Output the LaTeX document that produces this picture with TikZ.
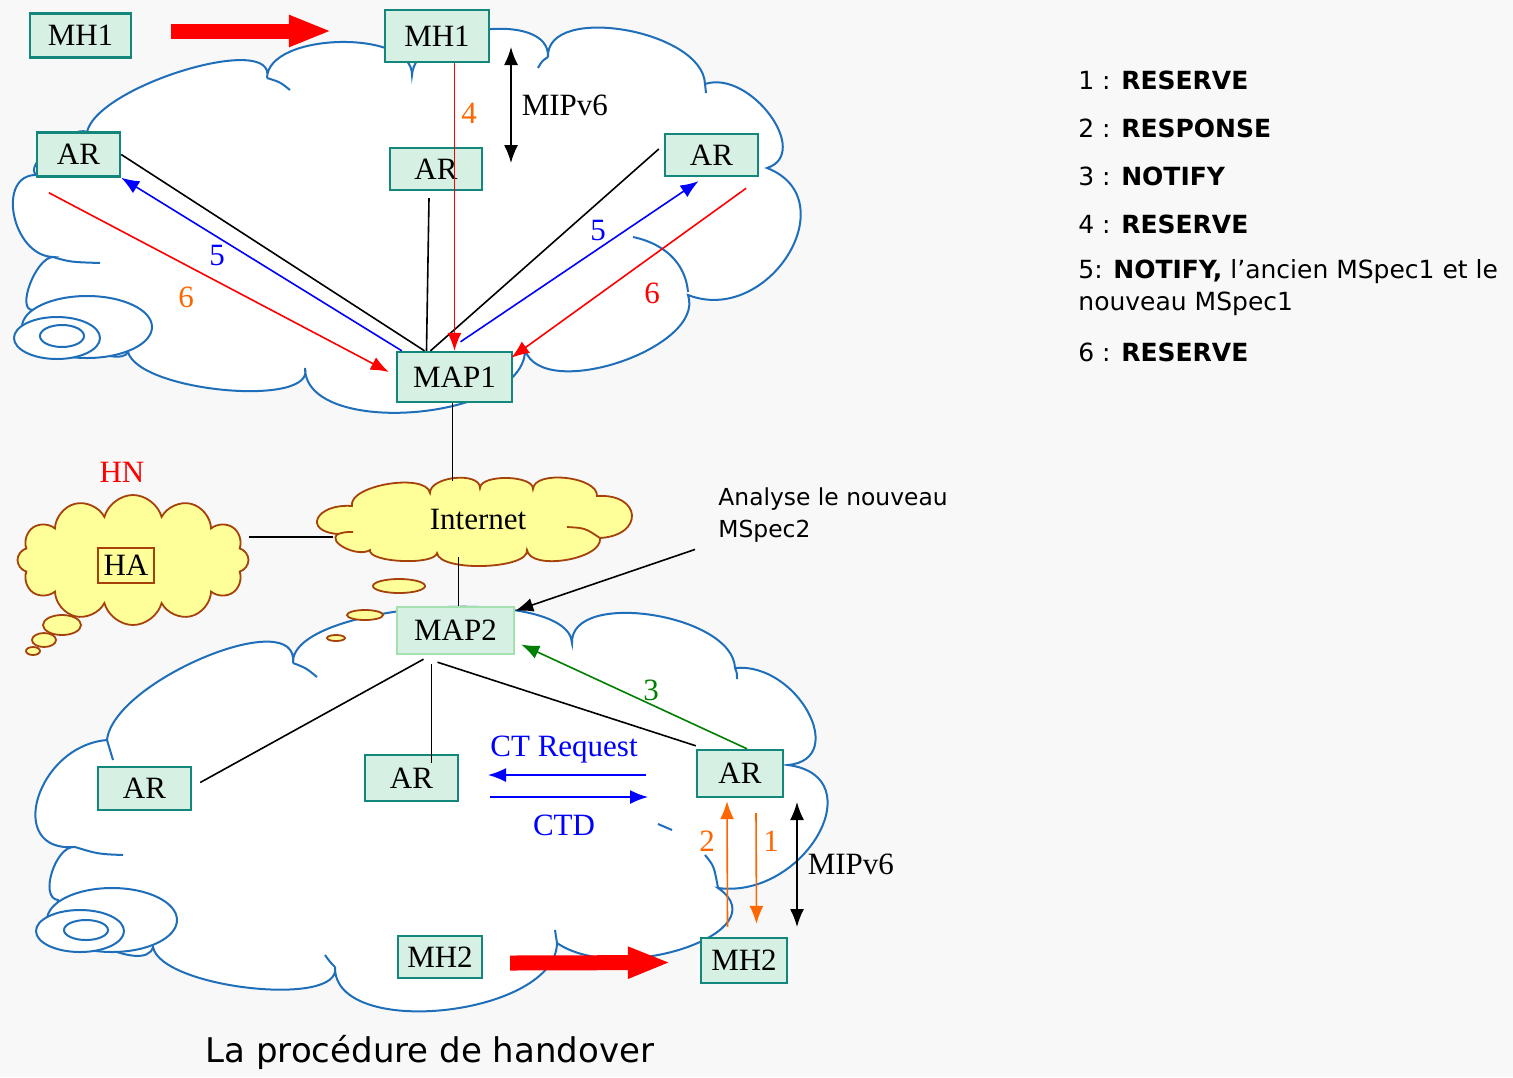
\documentclass[tikz,border=0pt]{standalone}
\usepackage{fontspec}
\setmainfont{Liberation Serif}
\newfontfamily\comicfont{DejaVu Sans}
\usetikzlibrary{arrows.meta,calc,shapes.symbols}

\definecolor{bgcol}{RGB}{248,248,248}
\definecolor{boxfill}{RGB}{214,240,228}
\definecolor{boxline}{RGB}{20,135,125}
\definecolor{map2line}{RGB}{165,225,175}
\definecolor{cloudline}{RGB}{30,110,185}
\definecolor{yfill}{RGB}{255,255,153}
\definecolor{yline}{RGB}{165,65,10}
\definecolor{msgorange}{RGB}{255,102,0}
\definecolor{msggreen}{RGB}{0,128,0}

\tikzset{
  box/.style={draw=boxline,fill=boxfill,line width=1.2pt,inner sep=0pt,minimum height=22pt,font=\fontsize{15.5}{18}\selectfont},
  lbl/.style={font=\fontsize{15.5}{18}\selectfont,inner sep=1pt},
  link/.style={line width=0.8pt},
  msg/.style={line width=0.8pt,->},
  move/.style={red,line width=7.5pt,-{Triangle[length=21.5pt,width=14.5pt]}},
  netcloud/.style={draw=cloudline,fill=white,line width=1pt},
  tail/.style={draw=cloudline,line width=1pt},
  ycloud/.style={cloud,cloud puffs=12,cloud ignores aspect,draw=yline,fill=yfill,line width=0.9pt,inner sep=0pt},
  bubble/.style={draw=yline,fill=yfill,line width=0.9pt},
  comic/.style={font=\comicfont\fontsize{12.5}{16}\selectfont,inner sep=0pt},
}

\begin{document}
\begin{tikzpicture}[x=0.5pt,y=-0.5pt,>={Latex[length=9pt,width=7pt]}]
\useasboundingbox (0,0) rectangle (1513,1077);
\fill[bgcol] (0,0) rectangle (1513,1077);

% top network cloud
\filldraw[netcloud] (87,132)
  \foreach \p/\a/\q in {{87,132}/{185,70}/{267,78},{267,78}/{340,42}/{412,75},{412,75}/{482,30}/{548,57},
    {548,57}/{625,30}/{705,84},{705,84}/{770,115}/{767,168},{767,168}/{788,255}/{688,295},
    {688,295}/{620,362}/{525,350},{525,350}/{415,412}/{305,368},{305,368}/{225,390}/{128,352},
    {128,352}/{75,345}/{33,310},{33,310}/{30,284}/{53,257},{53,257}/{14,215}/{37,175},{37,175}/{50,148}/{87,132}}
  { .. controls ($0.3333*(\p)+1.3333*(\a)-0.6667*(\q)$) and ($0.3333*(\q)+1.3333*(\a)-0.6667*(\p)$) .. (\q) } -- cycle;
\draw[tail] (267,78) .. controls (280,82) .. (290,90);
\draw[tail] (548,57) .. controls (542,61) .. (538,68);
\draw[tail] (705,84) .. controls (706,88) .. (706,93);
\draw[tail] (633,237) .. controls (670,245) and (686,268) .. (688,292);
\draw[tail] (53,257) .. controls (70,262) .. (100,263);
\filldraw[netcloud] (87,327) ellipse [x radius=65, y radius=31];
\filldraw[netcloud] (57,338) ellipse [x radius=43, y radius=21];
\draw[tail] (62,336) ellipse [x radius=22, y radius=11];

% bottom network cloud
\filldraw[netcloud] (107,740)
  \foreach \p/\a/\q in {{107,740}/{205,657}/{293,663},{293,663}/{430,608}/{572,643},{572,643}/{652,615}/{735,668},
    {735,668}/{808,712}/{788,765},{788,765}/{818,835}/{718,888},{718,888}/{685,948}/{557,943},
    {557,943}/{445,1010}/{335,967},{335,967}/{250,988}/{153,947},{153,947}/{100,945}/{58,900},
    {58,900}/{52,872}/{75,847},{75,847}/{38,798}/{107,740}}
  { .. controls ($0.3333*(\p)+1.3333*(\a)-0.6667*(\q)$) and ($0.3333*(\q)+1.3333*(\a)-0.6667*(\p)$) .. (\q) } -- cycle;
\draw[tail] (107,740) .. controls (110,750) .. (113,760);
\draw[tail] (293,663) .. controls (306,668) .. (317,677);
\draw[tail] (735,668) .. controls (737,673) .. (737,679);
\draw[tail] (75,847) .. controls (98,854) .. (123,855);
\draw[tail] (658,824) -- (672,830);
\draw[tail] (705,855) .. controls (714,866) .. (718,888);
\draw[tail] (557,943) .. controls (556,936) .. (555,930);
\draw[tail] (335,967) .. controls (330,962) .. (325,955);
\filldraw[netcloud] (112,920) ellipse [x radius=65, y radius=32];
\filldraw[netcloud] (80,931) ellipse [x radius=44, y radius=21];
\draw[tail] (86,930) ellipse [x radius=22, y radius=10];

% home network and internet
\filldraw[bubble] (338,534)
  \foreach \p/\a/\q in {{338,534}/{318,518}/{352,506},{352,506}/{388,484}/{430,493},{430,493}/{455,478}/{480,488},
    {480,488}/{507,478}/{533,489},{533,489}/{566,478}/{597,496},{597,496}/{632,515}/{600,538},
    {600,538}/{566,560}/{527,550},{527,550}/{484,566}/{437,553},{437,553}/{402,561}/{370,550},{370,550}/{345,548}/{338,534}}
  { .. controls ($0.3333*(\p)+1.3333*(\a)-0.6667*(\q)$) and ($0.3333*(\q)+1.3333*(\a)-0.6667*(\p)$) .. (\q) } -- cycle;
\draw[bubble] (567,527) .. controls (585,528) .. (600,538);
\draw[bubble] (338,534) .. controls (345,532) .. (353,532);
\node[minimum width=145pt,minimum height=38pt,inner sep=0pt,font=\fontsize{15.5}{18}\selectfont] (inet) at (478,519) {Internet};
\node[ycloud,minimum width=115.5pt,minimum height=65pt] (hn) at (133,560) {};
\filldraw[bubble] (62,625) ellipse [x radius=19, y radius=10];
\filldraw[bubble] (44,640) ellipse [x radius=12, y radius=7];
\filldraw[bubble] (33,651) ellipse [x radius=7, y radius=4];
\filldraw[bubble] (399,586) ellipse [x radius=26, y radius=7];
\filldraw[bubble] (365,615) ellipse [x radius=18, y radius=5];
\filldraw[bubble] (336,638) ellipse [x radius=9, y radius=3];
\node[box,draw=yline,fill=yfill,line width=1pt,minimum width=28pt,minimum height=17.5pt] (ha) at (126,565) {HA};
\node[lbl,red] (hnl) at (122,472) {HN};

% nodes
\node[box,minimum width=50.5pt] (mh1a) at (80.5,35.5) {MH1};
\node[box,minimum width=52pt,minimum height=26pt] (mh1b) at (437,36) {MH1};
\node[box,minimum width=41.5pt] (arl) at (78.5,154.5) {AR};
\node[box,minimum width=46pt,minimum height=21pt] (arm) at (436,169) {AR};
\node[box,minimum width=46.5pt,minimum height=21pt] (arr) at (711.5,155) {AR};
\node[box,minimum width=57.5pt,minimum height=25pt] (map1) at (454.5,377) {MAP1};
\node[box,draw=map2line,minimum width=58.5pt,minimum height=23.5pt] (map2) at (455.5,630.5) {MAP2};
\node[box,minimum width=46.5pt,minimum height=21.5pt] (arlb) at (144.5,788.5) {AR};
\node[box,minimum width=46.5pt,minimum height=23pt] (armb) at (411.5,778) {AR};
\node[box,minimum width=43pt,minimum height=23.5pt] (arrb) at (740,773.5) {AR};
\node[box,minimum width=42pt,minimum height=21pt] (mh2l) at (440,957) {MH2};
\node[box,minimum width=43pt,minimum height=22.5pt] (mh2r) at (744,960.5) {MH2};

% handovers
\draw[move] ([shift={(19.5pt,2.25pt)}]mh1a.east) -- ([shift={(-26pt,2.5pt)}]mh1b.west);
\draw[move] ([shift={(13.5pt,-3pt)}]mh2l.east) -- ([shift={(-14.5pt,-1pt)}]mh2r.west);

% top links
\draw[link] (arl.east) -- ([xshift=-15pt]map1.north);
\draw[link] ([shift={(-3.5pt,-3.5pt)}]arm.south) -- ([xshift=-14pt]map1.north);
\draw[link] ([shift={(-2.5pt,3pt)}]arr.west) -- ([xshift=-12pt]map1.north);
\draw[msg,blue] ([xshift=3pt]map1.north west) -- (arl.south east);
\draw[msg,red] ([shift={(6.5pt,-7.5pt)}]arl.south west) -- ([shift={(-3.5pt,2.5pt)}]map1.west);
\draw[msg,blue] ([shift={(3pt,4.5pt)}]map1.north) -- ([shift={(-6.5pt,-2pt)}]arr.south);
\draw[msg,red] ([shift={(-6.5pt,-5.5pt)}]arr.south east) -- ([shift={(-1pt,-3.5pt)}]map1.north east);
\draw[msg,red] (mh1b.south -| map1.north) -- (map1.north);
\coordinate (mipa) at (511,47);
\coordinate (mipb) at (511,163);
\draw[link,<->] (mipa) -- (mipb) node[lbl,midway,right=4pt] (mip1) {MIPv6};
\node[lbl,msgorange] (l4) at (469,113) {4};
\node[lbl,blue] (l5a) at (217,255) {5};
\node[lbl,msgorange] (l6a) at (186,297) {6};
\node[lbl,blue] (l5b) at (598,230) {5};
\node[lbl,red] (l6b) at (652,293) {6};

% core links
\draw[link] ([xshift=-1pt]map1.south) -- ([xshift=-1pt]map1.south |- inet.north);
\draw[link] ([xshift=1.5pt]map2.north) -- ([xshift=1.5pt]map2.north |- inet.south);
\draw[link] ([yshift=-9pt]inet.west) -- ([yshift=-9pt]inet.west -| hn.east);
\node[comic,font=\comicfont\fontsize{11.7}{16}\selectfont,align=left,anchor=north west] (ana) at (718,487) {Analyse le nouveau\\MSpec2};
\draw[msg] ([shift={(-11.5pt,-3.5pt)}]ana.south west) -- ([yshift=-2.5pt]map2.north east);

% bottom links
\draw[link] ([shift={(-16pt,-2pt)}]map2.south) -- ([shift={(4pt,3pt)}]arlb.east);
\draw[link] ([shift={(-12pt,-4.5pt)}]map2.south) -- ([shift={(-12pt,-4.5pt)}]map2.south |- armb.north);
\draw[link] ([shift={(-9pt,-3.5pt)}]map2.south) -- ([yshift=1.5pt]arrb.north west);
\draw[msg,msggreen] ([xshift=3.5pt]arrb.north) -- ([shift={(3pt,-7pt)}]map2.east);
\node[lbl,msggreen] (l3) at (651,690) {3};
\node[lbl,blue] (ctreq) at (564,750) {CT Request};
\node[lbl,blue] (ctd) at (564,825) {CTD};
\coordinate (cta) at (646,775);
\coordinate (ctb) at (488,775);
\coordinate (ctc) at (490,797);
\coordinate (ctdd) at (648,797);
\draw[msg,blue] (cta) -- (ctb);
\draw[msg,blue] (ctc) -- (ctdd);
\draw[msg,msgorange] ([shift={(-8.25pt,5pt)}]mh2r.north) -- ([shift={(-6.5pt,-1.5pt)}]arrb.south);
\draw[msg,msgorange] ([shift={(8pt,-7.5pt)}]arrb.south) -- ([shift={(6.25pt,6.5pt)}]mh2r.north);
\node[lbl,msgorange] (l2) at (707,841) {2};
\node[lbl,msgorange] (l1) at (771,841) {1};
\coordinate (mipc) at (797,802);
\coordinate (mipd) at (797,927);
\draw[link,<->] (mipc) -- (mipd) node[lbl,midway,right=4pt] (mip2) {MIPv6};

% legend
\foreach \n/\w/\y in {1/RESERVE/80,2/RESPONSE/128,3/NOTIFY/176,4/RESERVE/224,6/RESERVE/352}
  \node[comic,anchor=west] (leg\n) at (1078,\y) {\n{} : \textbf{\w}};
\node[comic,anchor=west,align=left] (leg5) at (1078,288) {5: \textbf{NOTIFY,} l’ancien MSpec1 et le\\nouveau MSpec1};
\node[font=\comicfont\fontsize{17}{20}\selectfont] (title) at (430,1052) {La procédure de handover};
\end{tikzpicture}
\end{document}
